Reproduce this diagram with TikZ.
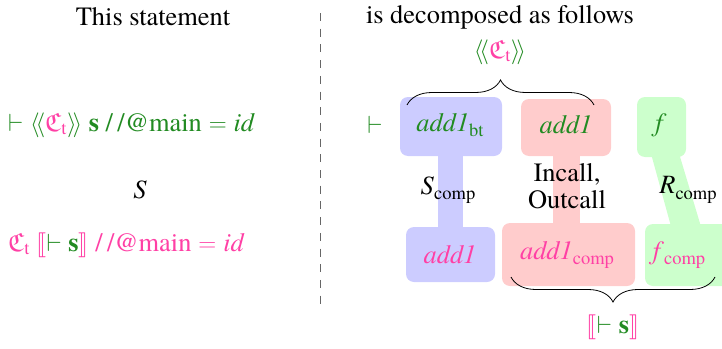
\documentclass[tikz,border=0pt]{standalone}
\usepackage{amsmath,amssymb}
\usepackage{stmaryrd}
\usepackage{fontspec}
\setmainfont{TeX Gyre Termes}
\usetikzlibrary{decorations.pathreplacing}

\definecolor{stgreen}{RGB}{34,139,34}
\definecolor{stpink}{RGB}{255,64,165}
\definecolor{boxblue}{RGB}{204,204,255}
\definecolor{boxred}{RGB}{255,204,204}
\definecolor{boxgreen}{RGB}{204,255,204}

\newcommand{\Ctx}{\textcolor{stpink}{$\mathfrak{C}_{\text{t}}$}}
\newcommand{\dangl}{\textcolor{stgreen}{$\langle\!\langle$}}
\newcommand{\dangr}{\textcolor{stgreen}{$\rangle\!\rangle$}}
% subscript set at 70% of the label size
\newcommand{\lowsub}[1]{\raisebox{-0.2em}{\fontsize{18.5}{19}\selectfont #1}}

\begin{document}
\begin{tikzpicture}[x=1pt,y=-1pt,
  txt/.style={font=\fontsize{26.4}{27}\selectfont, inner sep=0pt, align=center},
  panel/.style={rounded corners=8pt},
  bracestyle/.style={decorate, decoration={brace, amplitude=25pt}, line width=0.8pt}]
\useasboundingbox (0,0) rectangle (722,348);

% separator
\draw[line width=0.9pt, gray!80!black, dash pattern=on 8pt off 7.7pt] (320,13) -- (320,308);

% headings
\node[txt] (h1) at (153,17) {This statement};
\node[txt] (h2) at (500,17) {is decomposed as follows};

% left column
\node[txt, anchor=west, text=stgreen] (l1) at (8,125)
  {$\vdash$ \dangl\Ctx\dangr{} \textbf{s} /\,/@main${}={}$\textit{id}};
\node[txt] (ls) at (140,190) {\textit{S}};
\node[txt, anchor=west, text=stpink] (l2) at (8,245)
  {\Ctx{} $\llbracket$\textcolor{stgreen}{$\vdash$ \textbf{s}}$\rrbracket$ /\,/@main${}={}$\textit{id}};

% coloured panels with their links
\fill[boxblue, panel] (400,97) rectangle (502,156);
\fill[boxblue] (438,150) rectangle (463,232);
\fill[boxblue, panel] (406,227) rectangle (495,282);

\fill[boxred, panel] (521,99) rectangle (611,156);
\fill[boxred] (553,150) rectangle (580,228);
\fill[boxred, panel] (502,223) rectangle (635,286);

\fill[boxgreen, panel] (637,97) rectangle (686,157);
\fill[boxgreen] (650,150) -- (678,150) -- (702,230) -- (672,230) -- cycle;
\fill[boxgreen, panel] (645,224) rectangle (732,286);

% panel labels
\node[txt, text=stgreen] (turn) at (375,125) {$\vdash$};
\node[txt, text=stgreen] (a1) at (450,125) {\textit{add1}\lowsub{bt}};
\node[txt, text=stgreen] (a2) at (566,125) {\textit{add1}};
\node[txt, text=stgreen] (a3) at (661,125) {\textit{f}};

\node[txt] (r1) at (448,190) {\textit{S}\lowsub{comp}};
\node[txt] (r2) at (567,186) {Incall,\\Outcall};
\node[txt] (r3) at (688,190) {\textit{R}\lowsub{comp}};

\node[txt, text=stpink] (b1) at (450,255) {\textit{add1}};
\node[txt, text=stpink] (b2) at (567,255) {\textit{add1}\lowsub{comp}};
\node[txt, text=stpink] (b3) at (679,255) {\textit{f}\lowsub{comp}};

% braces
\coordinate (tbL) at (407,105);
\coordinate (tbR) at (594,105);
\draw[bracestyle] (tbL) -- (tbR);
\node[txt] (tctx) at (500,52) {\dangl\Ctx\dangr};

\coordinate (bbL) at (511,277);
\coordinate (bbR) at (715,277);
\draw[bracestyle] (bbR) -- (bbL);
\node[txt, text=stpink] (bctx) at (613,327) {$\llbracket$\textcolor{stgreen}{$\vdash$ \textbf{s}}$\rrbracket$};
\end{tikzpicture}
\end{document}
